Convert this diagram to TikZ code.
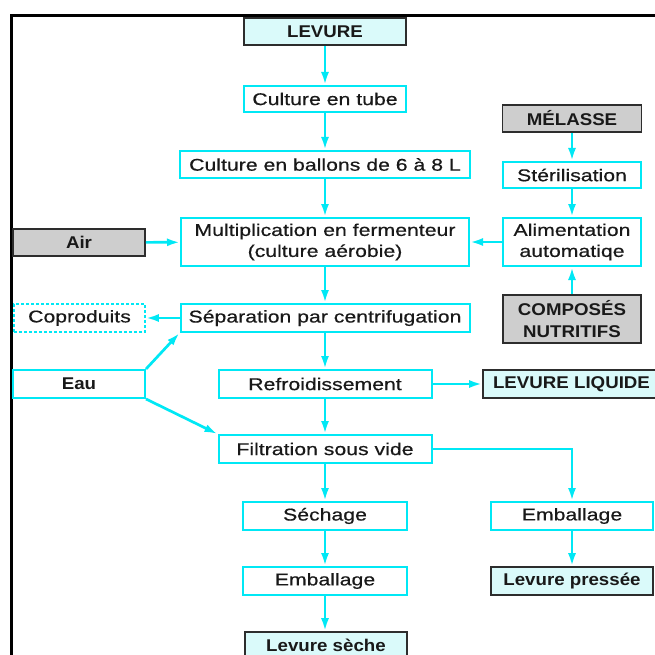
\documentclass[tikz,border=0pt]{standalone}
\usepackage{fontspec}
\setmainfont{Liberation Sans}[FakeStretch=1.25,FakeBold=0.5]
\newfontfamily\bfam{Liberation Sans}[FakeStretch=1.1]
\usetikzlibrary{arrows.meta}
\definecolor{cy}{RGB}{0,232,245}
\definecolor{lcy}{RGB}{218,250,250}
\definecolor{gr}{RGB}{206,206,206}
\definecolor{dk}{RGB}{45,45,45}
\definecolor{txt}{RGB}{25,25,25}
\begin{document}
\begin{tikzpicture}[x=1pt,y=-1pt,
  base/.style={rectangle, inner sep=0pt, text=txt, align=center,
    font=\fontsize{17}{21}\selectfont},
  proc/.style={base, draw=cy, line width=2pt, fill=white},
  bproc/.style={proc, font=\bfam\bfseries\fontsize{17}{21}\selectfont},
  dproc/.style={proc, line width=1.6pt, dash pattern=on 3pt off 2pt},
  prod/.style={base, draw=dk, line width=1.6pt, fill=lcy,
    font=\bfam\bfseries\fontsize{17}{21}\selectfont},
  raw/.style={base, draw=dk, line width=1.6pt, fill=gr,
    font=\bfam\bfseries\fontsize{17}{22}\selectfont},
  arr/.style={draw=cy, line width=2.7pt, -{Latex[length=13pt,width=8pt]}},
  frame/.style={draw=black, line width=3pt}
]
\useasboundingbox (0,0) rectangle (655,655);
\clip (0,0) rectangle (655,655);
\fill[white] (0,0) rectangle (655,655);
\draw[frame] (11,670) -- (11,16) -- (670,16);

% main column
\node[prod, minimum width=162pt, minimum height=27pt] (lev) at (325,31.5) {LEVURE};
\node[proc, minimum width=162pt, minimum height=26pt] (tube) at (325,99) {Culture en tube};
\node[proc, minimum width=290pt, minimum height=27pt] (ball) at (325,164.5) {Culture en ballons de 6 à 8 L};
\node[proc, minimum width=288pt, minimum height=48pt] (mult) at (325,242) {Multiplication en fermenteur\\(culture aérobie)};
\node[proc, minimum width=289pt, minimum height=28pt] (sep) at (325,318) {Séparation par centrifugation};
\node[proc, minimum width=213pt, minimum height=28pt] (refr) at (325,384) {Refroidissement};
\node[proc, minimum width=213pt, minimum height=28pt] (filt) at (325,449) {Filtration sous vide};
\node[proc, minimum width=164pt, minimum height=28pt] (sech) at (325,516) {Séchage};
\node[proc, minimum width=164pt, minimum height=28pt] (emba) at (325,581) {Emballage};
\node[prod, minimum width=162pt, minimum height=27pt] (lsec) at (326,645.5) {Levure sèche};

% left column
\node[raw, minimum width=132pt, minimum height=27pt] (air) at (79,242.5) {Air};
\node[dproc, minimum width=131pt, minimum height=28pt] (copr) at (79.5,318) {Coproduits};
\node[bproc, minimum width=132pt, minimum height=28pt] (eau) at (79,384) {Eau};

% right column
\node[raw, minimum width=139pt, minimum height=27pt] (mel) at (572,118.5) {MÉLASSE};
\node[proc, minimum width=138pt, minimum height=26pt] (ster) at (572,175) {Stérilisation};
\node[proc, minimum width=138pt, minimum height=48pt] (alim) at (572,242) {Alimentation\\automatiqe};
\node[raw, minimum width=138pt, minimum height=48pt] (comp) at (572,319) {COMPOSÉS\\NUTRITIFS};
\node[prod, minimum width=177pt, minimum height=28pt] (liq) at (571.5,384) {LEVURE LIQUIDE};
\node[proc, minimum width=162pt, minimum height=28pt] (embb) at (572,516) {Emballage};
\node[prod, minimum width=162pt, minimum height=28pt] (pres) at (572,581) {Levure pressée};

% connectors
\draw[arr] (lev) -- (tube);
\draw[arr] (tube) -- (ball);
\draw[arr] (ball) -- (mult);
\draw[arr] (mult) -- (sep);
\draw[arr] (sep) -- (refr);
\draw[arr] (refr) -- (filt);
\draw[arr] (filt) -- (sech);
\draw[arr] (sech) -- (emba);
\draw[arr] (emba) -- (lsec.north -| emba.south);
\draw[arr] (filt.east) -| (embb.north);
\draw[arr] (embb) -- (pres);
\draw[arr] (refr) -- (liq);
\draw[arr] (air) -- (mult);
\draw[arr] (alim) -- (mult);
\draw[arr] (mel) -- (ster);
\draw[arr] (ster) -- (alim);
\draw[arr] (comp) -- (alim);
\draw[arr] (sep) -- (copr);
\draw[arr] (eau.north east) -- (sep.south west);
\draw[arr] (eau.south east) -- (filt.north west);
\end{tikzpicture}
\end{document}
